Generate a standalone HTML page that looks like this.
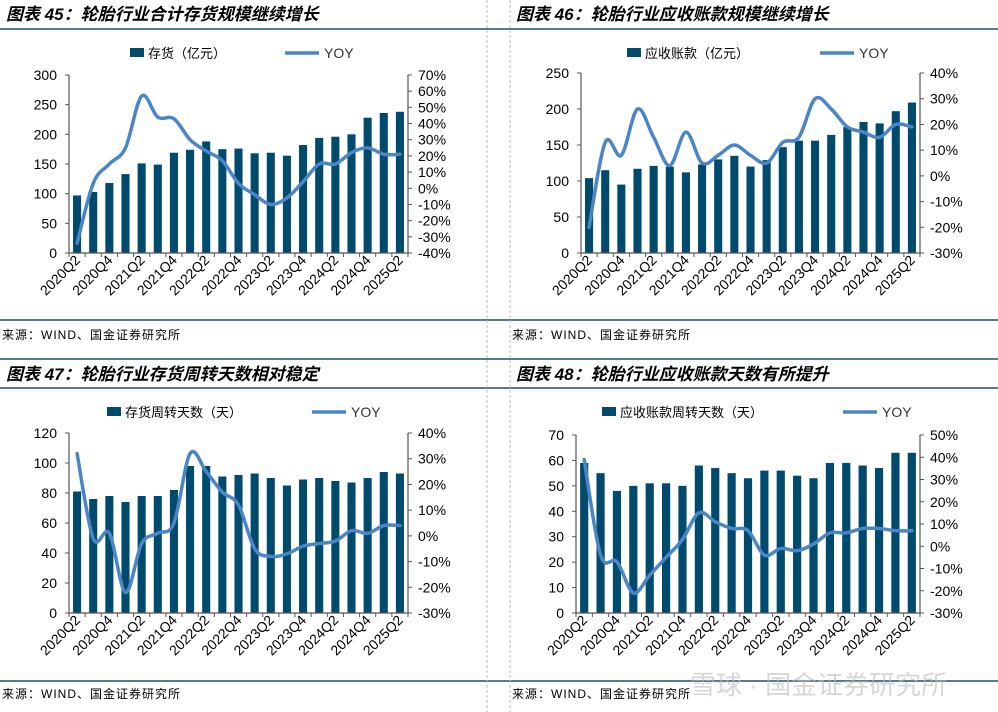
<!DOCTYPE html>
<html><head><meta charset="utf-8"><style>
body{margin:0;background:#fff;width:998px;height:712px;overflow:hidden;font-family:"Liberation Sans","Noto Sans CJK SC",sans-serif}
svg{position:absolute;left:0;top:0}
</style></head><body>
<svg id="s" width="998" height="712" xmlns="http://www.w3.org/2000/svg"></svg>
<script>
const cats=["2020Q2","2020Q3","2020Q4","2021Q1","2021Q2","2021Q3","2021Q4","2022Q1","2022Q2","2022Q3","2022Q4","2023Q1","2023Q2","2023Q3","2023Q4","2024Q1","2024Q2","2024Q3","2024Q4","2025Q1","2025Q2"];
const bars1=[97,103,118,133,151,149,169,174,188,175,176,168,169,164,182,194,196,200,228,236,238];
const yoy1=[-34,3,15,25,57,44,43,30,23,17,3,-4,-10,-6,4,15,15,22,25,21,21];
const bars2=[104,115,95,117,121,120,112,123,130,135,120,129,147,156,156,164,175,182,180,197,209];
const yoy2=[-20,13,8,26,15,4,17,5,8,12,8,5,13,15,30,26,19,17,15,20,19];
const bars3=[81,76,78,74,78,78,82,98,98,91,92,93,90,85,89,90,88,87,90,94,93];
const yoy3=[32,-1,1,-22,-3,1,5,32,25,17,12,-5,-8,-7,-4,-3,-2,2,1,4,4];
const bars4=[59,55,48,50,51,51,50,58,57,55,53,56,56,54,53,59,59,58,57,63,63];
const yoy4=[39,-4,-7,-21,-13,-5,3,15,11,8,7,-4,-1,-2,1,6,6,8,8,7,7];
const leftTicks1=[0,50,100,150,200,250,300], rightTicks1=[-40,-30,-20,-10,0,10,20,30,40,50,60,70];
const leftTicks2=[0,50,100,150,200,250], rightTicks2=[-30,-20,-10,0,10,20,30,40];
const leftTicks3=[0,20,40,60,80,100,120], rightTicks3=[-30,-20,-10,0,10,20,30,40];
const leftTicks4=[0,10,20,30,40,50,60,70], rightTicks4=[-30,-20,-10,0,10,20,30,40,50];
const titles=["图表 45：轮胎行业合计存货规模继续增长","图表 46：轮胎行业应收账款规模继续增长","图表 47：轮胎行业存货周转天数相对稳定","图表 48：轮胎行业应收账款天数有所提升"];
const legends=["存货（亿元）","应收账款（亿元）","存货周转天数（天）","应收账款周转天数（天）"];
const NS="http://www.w3.org/2000/svg";
const svg=document.getElementById('s');
function el(t,a,txt){const e=document.createElementNS(NS,t);for(const k in a)e.setAttribute(k,a[k]);if(txt!==undefined)e.textContent=txt;svg.appendChild(e);return e;}
// frame lines
[29,320,359,388,681].forEach(y=>{const l=el('line',{x1:0,x2:998,y1:y,y2:y,stroke:'#1f4e6e','stroke-width':1.5});

});
[487,510].forEach(x=>{const l=el('line',{x1:x,x2:x,y1:0,y2:712,stroke:'#bbb','stroke-dasharray':'3,2'});

});
function chart(i,ox,ty,titleY,x0,x1,y0,y1,bars,yoy,lt,rt,legX,lineX,srcY){
  const t=el('text',{x:ox+6,y:titleY,'font-size':17,'font-weight':'bold','font-style':'italic',fill:'#000'},titles[i]);
  
  
  const lmin=lt[0],lmax=lt[lt.length-1],rmin=rt[0],rmax=rt[rt.length-1];
  const yl=v=>y0-(v-lmin)/(lmax-lmin)*(y0-y1);
  const yr=v=>y0-(v-rmin)/(rmax-rmin)*(y0-y1);
  const n=cats.length,slot=(x1-x0)/n;
  const xc=k=>x0+slot*(k+0.5);
  // legend
  const ly=ty;
  const sw=el('rect',{x:legX,y:ly-6,width:14,height:9,fill:'#004a6e'});
  
  
  const lt1=el('text',{x:legX+18,y:ly+4,'font-size':13,fill:'#000'},legends[i]);
  
  
  const ls=el('line',{x1:lineX,x2:lineX+34,y1:ly-1,y2:ly-1,stroke:'#4a86c5','stroke-width':3.5});
  
  
  const lt2=el('text',{x:lineX+39,y:ly+4,'font-size':14,fill:'#333'},'YOY');
  
  
  // bars
  bars.forEach((v,k)=>{const b=el('rect',{x:xc(k)-slot*0.25,y:yl(v),width:slot*0.5,height:y0-yl(v),fill:'#004a6e'});
    
    });
  // axes
  const ax=el('path',{d:`M${x0},${y1}V${y0}H${x1}M${x1},${y1}V${y0}`,stroke:'#555',fill:'none','stroke-width':1.2});
  
  
  lt.forEach(v=>{el('line',{x1:x0-4,x2:x0,y1:yl(v),y2:yl(v),stroke:'#555'});
    const tx=el('text',{x:x0-12,y:yl(v)+5,'font-size':14,'text-anchor':'end',fill:'#000'},v);
    
    });
  rt.forEach(v=>{el('line',{x1:x1,x2:x1+4,y1:yr(v),y2:yr(v),stroke:'#555'});
    const tx=el('text',{x:x1+10,y:yr(v)+5,'font-size':14,fill:'#000'},v+'%');
    
    });
  for(let k=0;k<=n;k++)el('line',{x1:x0+slot*k,x2:x0+slot*k,y1:y0,y2:y0+4,stroke:'#555'});
  cats.forEach((c,k)=>{if(k%2)return;const tx=el('text',{x:xc(k)+4,y:y0+8,'font-size':14,'text-anchor':'end',fill:'#000',transform:`rotate(-45 ${xc(k)+4} ${y0+8})`},c);
    
    });
  // smooth line
  const pts=yoy.map((v,k)=>[xc(k),yr(v)]);
  let d=`M${pts[0][0]},${pts[0][1]}`;
  for(let k=0;k<pts.length-1;k++){const p0=pts[Math.max(k-1,0)],p1=pts[k],p2=pts[k+1],p3=pts[Math.min(k+2,pts.length-1)];
    d+=`C${p1[0]+(p2[0]-p0[0])/6},${p1[1]+(p2[1]-p0[1])/6} ${p2[0]-(p3[0]-p1[0])/6},${p2[1]-(p3[1]-p1[1])/6} ${p2[0]},${p2[1]}`;}
  const ln=el('path',{d:d,stroke:'#4a86c5','stroke-width':3.5,fill:'none','stroke-linejoin':'round','stroke-linecap':'round'});
  
  
  const src=el('text',{x:ox+2,y:srcY,'font-size':12,fill:'#000','letter-spacing':'1px'},'来源：WIND、国金证券研究所');
  
  
}
chart(0,0,54,20,69,408,253,75,bars1,yoy1,leftTicks1,rightTicks1,130,285,339);
chart(1,510,54,20,581,920,253,73,bars2,yoy2,leftTicks2,rightTicks2,627,820,339);
chart(2,0,413,380,69,408,613,433,bars3,yoy3,leftTicks3,rightTicks3,107,312,698);
chart(3,510,413,380,576,920,613,435,bars4,yoy4,leftTicks4,rightTicks4,602,843,698);
const wm=el('text',{x:690,y:694,'font-size':26,fill:'#bbb','fill-opacity':0.6},'雪球 · 国金证券研究所');


</script>
</body></html>
